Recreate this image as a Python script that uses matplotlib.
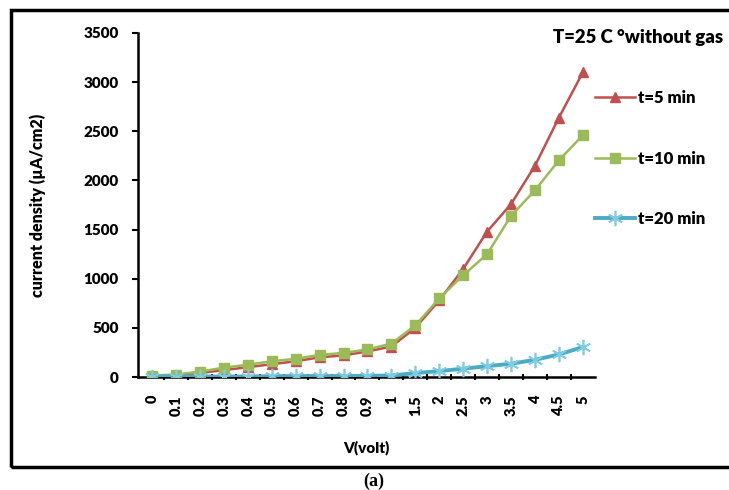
import matplotlib
matplotlib.use("Agg")
import matplotlib.pyplot as plt
from matplotlib.patches import Rectangle

# Data
#---------------------------
volts = ['0', '0.1', '0.2', '0.3', '0.4', '0.5', '0.6', '0.7', '0.8', '0.9',
         '1', '1.5', '2', '2.5', '3', '3.5', '4', '4.5', '5']
t5 = [10, 20, 40, 70, 100, 130, 160, 200, 220, 260, 310, 500, 780, 1100, 1480, 1760, 2150, 2640, 3100]
t10 = [15, 25, 55, 95, 125, 160, 185, 225, 245, 280, 340, 525, 800, 1035, 1250, 1640, 1900, 2205, 2460]
t20 = [5, 5, 5, 5, 5, 8, 10, 10, 10, 12, 15, 40, 60, 85, 110, 135, 175, 230, 305]

RED = '#C0504D'
GREEN = '#9BBB59'
BLUE = '#4BACC6'
W = 'heavy'

plt.rcParams['font.family'] = ['Lato', 'DejaVu Sans']
plt.rcParams['font.weight'] = W

fig = plt.figure(figsize=(7.29, 4.90), dpi=100)
ax = fig.add_axes([0.1888, 0.2306, 0.6272, 0.7021])

x = list(range(len(volts)))
ax.plot(x, t5, color=RED, lw=1.8, marker='^', ms=7, mfc=RED, mec=RED, label='t=5 min', zorder=3)
ax.plot(x, t10, color=GREEN, lw=1.8, marker='s', ms=7, mfc=GREEN, mec=GREEN, label='t=10 min', zorder=4)
ax.plot(x, t20, color=BLUE, lw=2.8, marker=(6, 2, 0), ms=11, mec='#7FCBE0', mew=1.2,
        label='t=20 min', zorder=5)

ax.set_xlim(-0.6, 18.5)
ax.set_ylim(0, 3500)
ax.set_yticks(range(0, 3501, 500))
ax.set_xticks(x)
ax.set_xticklabels(volts, rotation=90, fontsize=10.5, fontweight=W)
ax.set_xticks([i + 0.5 for i in x[:-1]], minor=True)
ax.tick_params(axis='x', which='major', length=0, pad=13)
ax.tick_params(axis='x', which='minor', length=4, width=1.5, direction='inout', color='black')
ax.tick_params(axis='y', length=4, width=1.5, pad=9.5, labelsize=11)
for lbl in ax.get_yticklabels():
    lbl.set_fontweight(W)

for s in ['top', 'right']:
    ax.spines[s].set_visible(False)
for s in ['left', 'bottom']:
    ax.spines[s].set_linewidth(1.8)
    ax.spines[s].set_color('black')

ax.set_ylabel('current density (µA/cm2)', fontsize=11.5, fontweight=W, labelpad=27)
ax.set_xlabel('V(volt)', fontsize=11, fontweight=W, labelpad=17.5)

leg = fig.legend(loc='upper left', bbox_to_anchor=(580 / 729, 1 - 75 / 490), frameon=False,
                 handlelength=2.4, labelspacing=2.67, handletextpad=0.2,
                 prop={'size': 12, 'weight': W})

fig.text(553 / 729, 1 - 37 / 490, 'T=25 C °without gas', fontsize=13.3, fontweight=W,
         va='center', ha='left')

# outer frame and caption
fig.patches.append(Rectangle((11.5 / 729, 1 - 467 / 490), 0.99, (467 - 10) / 490,
                             transform=fig.transFigure, fill=False, lw=2.5,
                             edgecolor='black', clip_on=False))
fig.text(374 / 729, 1 - 481 / 490, '(a)', fontsize=13, fontweight='bold',
         family=['Liberation Serif', 'DejaVu Serif'], ha='center', va='center')

fig.savefig('out.png', dpi=100)
